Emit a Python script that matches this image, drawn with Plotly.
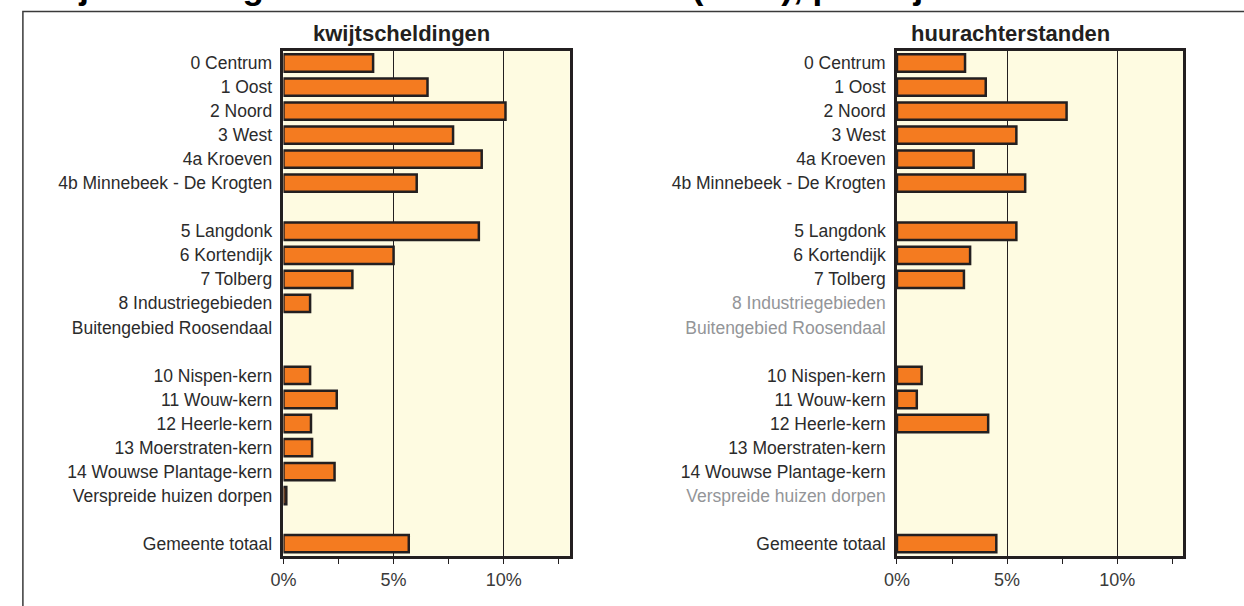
import plotly.graph_objects as go

# rows from top to bottom; blank strings are spacer rows
wijken = ["0 Centrum", "1 Oost", "2 Noord", "3 West", "4a Kroeven",
          "4b Minnebeek - De Krogten", " ",
          "5 Langdonk", "6 Kortendijk", "7 Tolberg", "8 Industriegebieden",
          "Buitengebied Roosendaal", "  ",
          "10 Nispen-kern", "11 Wouw-kern", "12 Heerle-kern", "13 Moerstraten-kern",
          "14 Wouwse Plantage-kern", "Verspreide huizen dorpen", "   ",
          "Gemeente totaal"]

# percentages (None = no bar)
kwijtscheldingen = [4.07, 6.54, 10.08, 7.70, 9.0, 6.05, None,
                    8.87, 5.0, 3.13, 1.21, None, None,
                    1.21, 2.42, 1.25, 1.30, 2.32, 0.13, None,
                    5.69]
huurachterstanden = [3.09, 4.03, 7.70, 5.42, 3.48, 5.82, None,
                     5.42, 3.32, 3.04, None, None, None,
                     1.12, 0.90, 4.14, None, None, None, None,
                     4.51]

# labels shown in grey (no data) per panel
grijs_links = []
grijs_rechts = ["8 Industriegebieden", "Buitengebied Roosendaal", "Verspreide huizen dorpen"]

x_ticks = [0, 5, 10]
x_ticktext = ["0%", "5%", "10%"]

W, H = 1244, 606
FONT = "Liberation Sans, Arial, sans-serif"
TXT = "#231f20"

fig = go.Figure()

panels = [("x", "y", kwijtscheldingen, grijs_links, "kwijtscheldingen", (273.3, 562.7), 393),
          ("x2", "y2", huurachterstanden, grijs_rechts, "huurachterstanden", (893.3, 1182.7), 1008)]

for xa, ya, vals, grijs, titel, (px0, px1), tx in panels:
    fig.add_trace(go.Bar(x=vals, y=wijken, orientation="h", xaxis=xa, yaxis=ya,
                         width=0.72, marker=dict(color="#f47b20", line=dict(color=TXT, width=2.5)),
                         showlegend=False))
    ticktext = []
    for w in wijken:
        if w in grijs:
            ticktext.append('<span style="color:#939598">%s</span>' % w)
        else:
            ticktext.append(w)
    xkey = "xaxis" if xa == "x" else "xaxis2"
    ykey = "yaxis" if ya == "y" else "yaxis2"
    fig.update_layout(**{
        xkey: dict(domain=[px0 / W, px1 / W], range=[0, 13], anchor=ya,
                   tickvals=x_ticks, ticktext=x_ticktext, ticks="outside", ticklen=6,
                   tickwidth=1.2, tickcolor=TXT,
                   minor=dict(dtick=2.5, tick0=0, ticks="outside", ticklen=6, tickcolor=TXT, showgrid=False),
                   showgrid=True, gridcolor=TXT, gridwidth=1.2, zeroline=False,
                   showline=True, linecolor=TXT, linewidth=2.5, mirror=True,
                   tickfont=dict(size=18, color="#3a3a3a", family=FONT), fixedrange=True),
        ykey: dict(domain=[(H - 555.7) / H, (H - 51) / H], anchor=xa, autorange="reversed",
                   type="category", tickvals=wijken, ticktext=ticktext, ticks="",
                   ticklabelstandoff=5, showgrid=False, showline=True, linecolor=TXT,
                   linewidth=2.5, mirror=True,
                   tickfont=dict(size=17.5, color="#2b2b2b", family=FONT), fixedrange=True),
    })
    fig.add_annotation(x=tx / W, y=(H - 33) / H, xref="paper", yref="paper", text="<b>%s</b>" % titel,
                       showarrow=False, font=dict(size=22, color=TXT, family=FONT),
                       xanchor="center", yanchor="middle")

# chart title, cut off at the top of the image (only descenders visible)
fig.add_annotation(x=2 / W, y=(H - 8) / H, xref="paper", yref="paper", xanchor="left", yanchor="bottom",
                   text="<b>Kwijtscheldingen en huurachterstanden (2010), per wijk</b>", showarrow=False,
                   font=dict(size=35, color="#000000", family=FONT))

# outer frame
fig.add_shape(type="rect", xref="paper", yref="paper", x0=10 / W, x1=1.01, y0=-0.05, y1=(H - 11.5) / H,
              line=dict(color="#3a3a3a", width=1.5), fillcolor="rgba(0,0,0,0)", layer="below")

fig.update_layout(width=W, height=H, margin=dict(l=0, r=0, t=0, b=0),
                  paper_bgcolor="white", plot_bgcolor="#fefbe1", bargap=0.28,
                  font=dict(family=FONT, color=TXT))

fig.write_html("out.html", config={"displayModeBar": False},
               post_script="document.body.style.margin='0';")
